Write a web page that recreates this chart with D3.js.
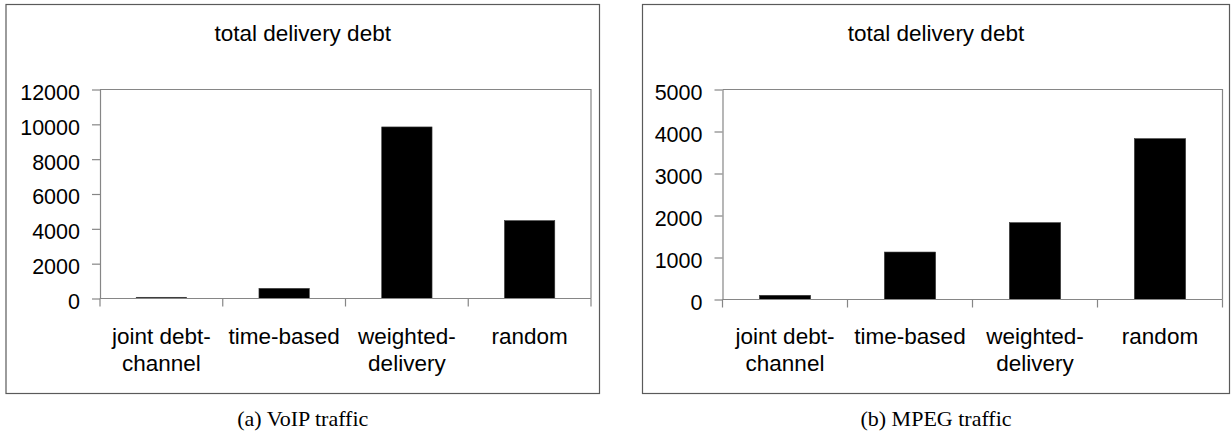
<!DOCTYPE html>
<html>
<head>
<meta charset="utf-8">
<script src="https://cdn.jsdelivr.net/npm/d3@7"></script>
<style>
  html, body { margin: 0; padding: 0; background: #fff; }
  svg { display: block; }
</style>
</head>
<body>
<svg id="chart" width="1231" height="435"></svg>
<script>
// ---- data ----
const categories = [["joint debt-", "channel"], ["time-based"], ["weighted-", "delivery"], ["random"]];
const categoryKeys = ["joint debt-channel", "time-based", "weighted-delivery", "random"];
const voipValues = [70, 580, 9850, 4470];
const mpegValues = [100, 1130, 1830, 3830];
const voipTicks = [0, 2000, 4000, 6000, 8000, 10000, 12000];
const mpegTicks = [0, 1000, 2000, 3000, 4000, 5000];
const chartTitle = "total delivery debt";
const captions = ["(a) VoIP traffic", "(b) MPEG traffic"];

// ---- layout ----
const svg = d3.select("#chart");
svg.append("rect").attr("width", 1231).attr("height", 435).attr("fill", "#fff");

const panels = [
  { frame: [6, 4.5, 599.5, 393.5], plot: [100, 89.5, 591, 298.5], values: voipValues, ticks: voipTicks, caption: captions[0] },
  { frame: [642.5, 4.5, 1229.5, 393.5], plot: [722.5, 89.5, 1222.5, 299.5], values: mpegValues, ticks: mpegTicks, caption: captions[1] }
];

const axisColor = "#868686";
const textFont = "'Liberation Sans', Arial, sans-serif";

panels.forEach(p => {
  const [fx0, fy0, fx1, fy1] = p.frame;
  const [px0, py0, px1, py1] = p.plot;
  const g = svg.append("g");
  const cx = (fx0 + fx1) / 2;

  // frame
  g.append("rect")
    .attr("x", fx0).attr("y", fy0)
    .attr("width", fx1 - fx0).attr("height", fy1 - fy0)
    .attr("fill", "none").attr("stroke", "#5a5a5a").attr("stroke-width", 1.2);

  // title
  g.append("text")
    .attr("x", cx).attr("y", 41)
    .attr("text-anchor", "middle")
    .attr("font-family", textFont).attr("font-size", 22.5)
    .attr("fill", "#000")
    .text(chartTitle);

  const x = d3.scaleBand().domain(categoryKeys).range([px0, px1])
    .paddingInner(0.59).paddingOuter(0.295);
  const y = d3.scaleLinear().domain([0, d3.max(p.ticks)]).range([py1, py0]);

  // plot border (top & right)
  g.append("path")
    .attr("d", `M${px0},${py0}H${px1}V${py1}`)
    .attr("fill", "none").attr("stroke", axisColor).attr("stroke-width", 1.2);

  // bars
  g.selectAll("rect.bar").data(p.values).enter().append("rect")
    .attr("class", "bar")
    .attr("x", (d, i) => x(categoryKeys[i]))
    .attr("width", x.bandwidth())
    .attr("y", d => y(d))
    .attr("height", d => y(0) - y(d))
    .attr("fill", "#000")
    .attr("stroke", "#3a3a3a").attr("stroke-width", 0.6);

  // y axis
  const yAxis = g.append("g")
    .attr("transform", `translate(${px0},0)`)
    .call(d3.axisLeft(y).tickValues(p.ticks).tickSize(8).tickSizeOuter(0).tickPadding(12).tickFormat(d3.format("d")));
  yAxis.select(".domain").attr("stroke", axisColor).attr("stroke-width", 1.2);
  yAxis.selectAll(".tick line").attr("stroke", axisColor).attr("stroke-width", 1.2);
  yAxis.selectAll(".tick text")
    .attr("font-family", textFont).attr("font-size", 21.5)
    .attr("fill", "#000").attr("dy", "0.32em")
    .attr("transform", "translate(0,3)");

  // x axis baseline + boundary ticks
  g.append("line")
    .attr("x1", px0).attr("x2", px1).attr("y1", y(0)).attr("y2", y(0))
    .attr("stroke", axisColor).attr("stroke-width", 1.2);
  const bounds = d3.range(categoryKeys.length + 1).map(i => px0 + i * x.step());
  g.selectAll("line.xtick").data(bounds).enter().append("line")
    .attr("class", "xtick")
    .attr("x1", d => d).attr("x2", d => d)
    .attr("y1", y(0)).attr("y2", y(0) + 8)
    .attr("stroke", axisColor).attr("stroke-width", 1.2);

  // category labels
  categories.forEach((lines, i) => {
    const t = g.append("text")
      .attr("x", x(categoryKeys[i]) + x.bandwidth() / 2)
      .attr("y", 344)
      .attr("text-anchor", "middle")
      .attr("font-family", textFont).attr("font-size", 22.5)
      .attr("fill", "#000");
    lines.forEach((ln, j) => {
      t.append("tspan")
        .attr("x", x(categoryKeys[i]) + x.bandwidth() / 2)
        .attr("dy", j === 0 ? 0 : 27)
        .text(ln);
    });
  });

  // caption
  svg.append("text")
    .attr("x", cx).attr("y", 426)
    .attr("text-anchor", "middle")
    .attr("font-family", "'Liberation Serif', 'Times New Roman', serif")
    .attr("font-size", 22)
    .attr("fill", "#000")
    .text(p.caption);
});
</script>
</body>
</html>
